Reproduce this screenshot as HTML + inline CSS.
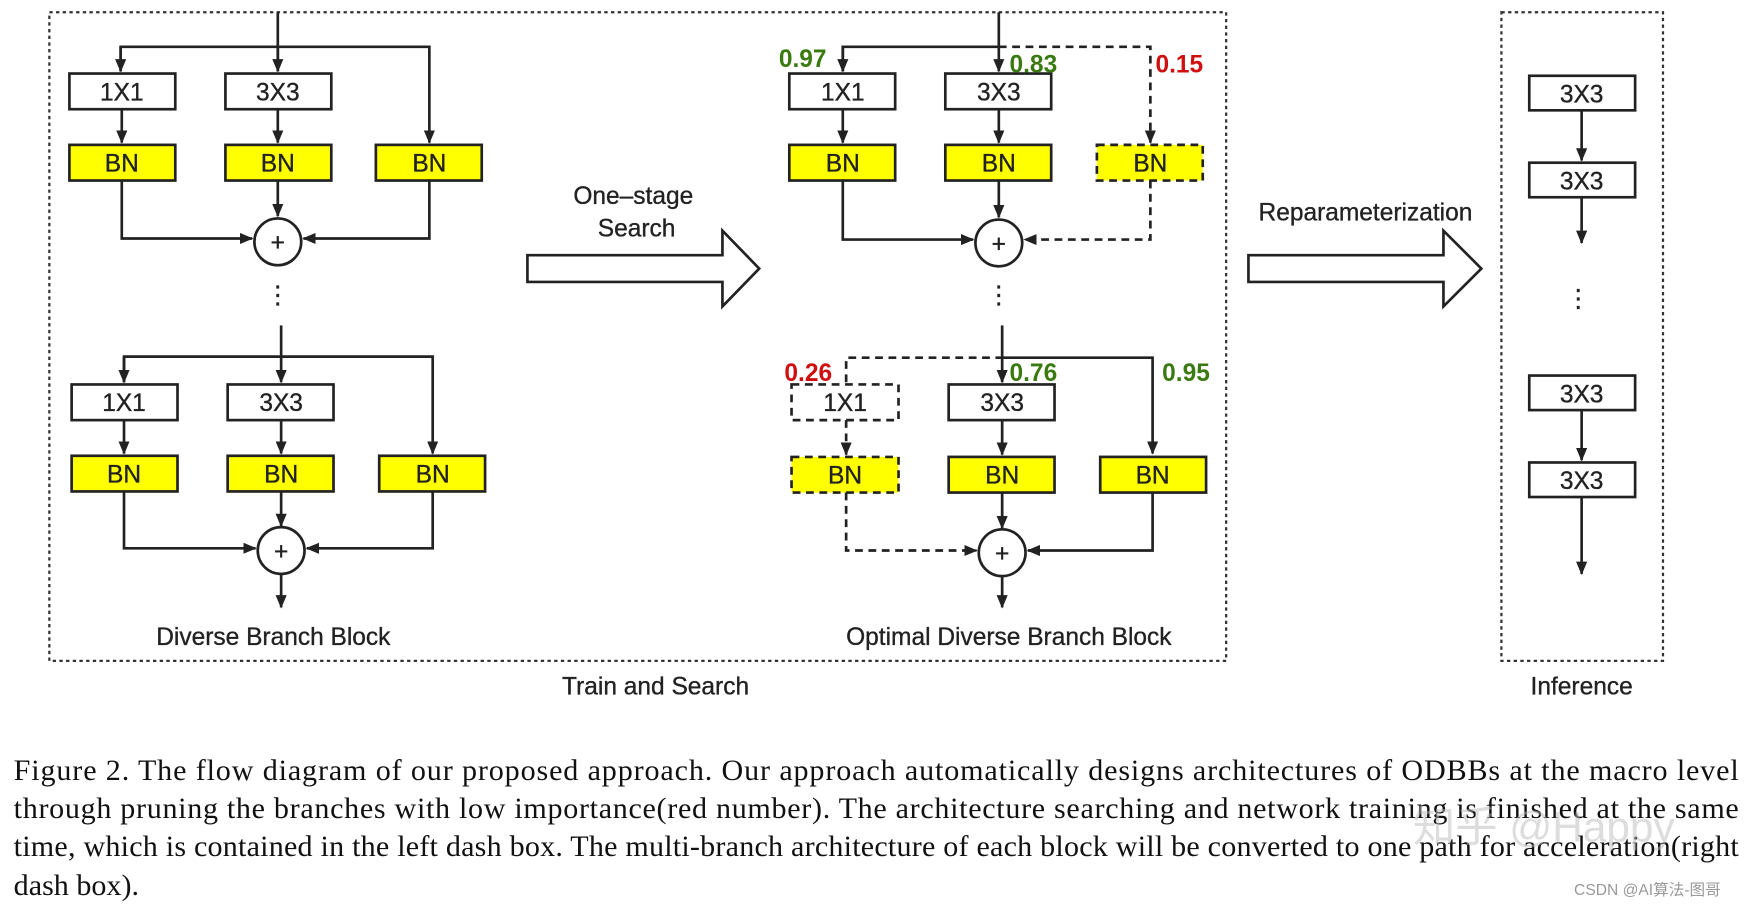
<!DOCTYPE html>
<html><head><meta charset="utf-8"><style>
html,body{margin:0;padding:0;background:#fff;}
svg{display:block;}
.b{fill:#fff;stroke:#222;stroke-width:2.4}
.y{fill:#ffff00;stroke:#222;stroke-width:2.4}
.d{stroke-dasharray:7 5}
.l{fill:none;stroke:#222;stroke-width:2.4}
.t{font-family:"Liberation Sans",sans-serif;font-size:22px;fill:#222;text-anchor:middle;stroke:#222;stroke-width:0.3}
.g{font-family:"Liberation Sans",sans-serif;font-size:22px;font-weight:bold;fill:#3a7a10;text-anchor:middle}
.r{font-family:"Liberation Sans",sans-serif;font-size:22px;font-weight:bold;fill:#d01010;text-anchor:middle}
.c{font-family:"Liberation Serif",serif;font-size:27px;fill:#111}
</style></head><body>
<svg width="1748" height="906" viewBox="0 0 1568 813" xmlns="http://www.w3.org/2000/svg">
<defs><marker id="a" markerWidth="12" markerHeight="10" refX="11" refY="5" orient="auto" markerUnits="userSpaceOnUse"><path d="M0,0 L12,5 L0,10 z" fill="#222"/></marker></defs>
<rect x="44" y="11" width="1056" height="582" fill="none" stroke="#333" stroke-width="2" stroke-dasharray="3 3"/>
<rect x="1347" y="11" width="145" height="582" fill="none" stroke="#333" stroke-width="2" stroke-dasharray="3 3"/>

<g>
<path class="l" d="M249,11 V64"/><path class="l" d="M108,64 V42 H385 V128" marker-end="url(#a)"/>
<path class="l" d="M108,42 V64" marker-end="url(#a)"/>
<path class="l" d="M249,42 V64" marker-end="url(#a)"/>
<rect class="b" x="62" y="66" width="95" height="32"/><text class="t" x="109" y="90">1X1</text>
<rect class="b" x="202" y="66" width="95" height="32"/><text class="t" x="249" y="90">3X3</text>
<path class="l" d="M109,98 V128" marker-end="url(#a)"/><path class="l" d="M249,98 V128" marker-end="url(#a)"/>
<rect class="y" x="62" y="130" width="95" height="32"/><text class="t" x="109" y="154">BN</text>
<rect class="y" x="202" y="130" width="95" height="32"/><text class="t" x="249" y="154">BN</text>
<rect class="y" x="337" y="130" width="95" height="32"/><text class="t" x="385" y="154">BN</text>
<path class="l" d="M249,162 V194" marker-end="url(#a)"/>
<path class="l" d="M109,162 V214 H226" marker-end="url(#a)"/>
<path class="l" d="M385,162 V214 H272" marker-end="url(#a)"/>
<circle class="b" cx="249" cy="217" r="21"/><text class="t" x="249" y="225">+</text>
<text class="t" x="249" y="272">⋮</text>
</g>
<g>
<path class="l" d="M252,292 V343" marker-end="url(#a)"/>
<path class="l" d="M111,343 V320 H388 V407" marker-end="url(#a)"/>
<path class="l" d="M111,320 V343" marker-end="url(#a)"/>
<rect class="b" x="64" y="345" width="95" height="32"/><text class="t" x="111" y="369">1X1</text>
<rect class="b" x="204" y="345" width="95" height="32"/><text class="t" x="252" y="369">3X3</text>
<path class="l" d="M111,377 V407" marker-end="url(#a)"/><path class="l" d="M252,377 V407" marker-end="url(#a)"/>
<rect class="y" x="64" y="409" width="95" height="32"/><text class="t" x="111" y="433">BN</text>
<rect class="y" x="204" y="409" width="95" height="32"/><text class="t" x="252" y="433">BN</text>
<rect class="y" x="340" y="409" width="95" height="32"/><text class="t" x="388" y="433">BN</text>
<path class="l" d="M252,441 V472" marker-end="url(#a)"/>
<path class="l" d="M111,441 V492 H229" marker-end="url(#a)"/>
<path class="l" d="M388,441 V492 H275" marker-end="url(#a)"/>
<circle class="b" cx="252" cy="494" r="21"/><text class="t" x="252" y="502">+</text>
<path class="l" d="M252,515 V545" marker-end="url(#a)"/>
<text class="t" x="245" y="579">Diverse Branch Block</text>
</g>

<path d="M473,229 H648 V207 L681,241 L648,275 V253 H473 Z" fill="#fff" stroke="#222" stroke-width="2.4"/>
<text class="t" x="568" y="183">One–stage</text><text class="t" x="571" y="212">Search</text>

<g>
<path class="l" d="M896,11 V64" marker-end="url(#a)"/>
<path class="l" d="M756,64 V42 H896"/>
<path class="l" d="M756,42 V64" marker-end="url(#a)"/>
<path class="l d" d="M896,42 H1032 V128" marker-end="url(#a)"/>
<rect class="b" x="708" y="66" width="95" height="32"/><text class="t" x="756" y="90">1X1</text>
<rect class="b" x="848" y="66" width="95" height="32"/><text class="t" x="896" y="90">3X3</text>
<path class="l" d="M756,98 V128" marker-end="url(#a)"/><path class="l" d="M896,98 V128" marker-end="url(#a)"/>
<rect class="y" x="708" y="130" width="95" height="32"/><text class="t" x="756" y="154">BN</text>
<rect class="y" x="848" y="130" width="95" height="32"/><text class="t" x="896" y="154">BN</text>
<rect class="y d" x="984" y="130" width="95" height="32"/><text class="t" x="1032" y="154">BN</text>
<path class="l" d="M896,162 V195" marker-end="url(#a)"/>
<path class="l" d="M756,162 V215 H873" marker-end="url(#a)"/>
<path class="l d" d="M1032,162 V215 H919" marker-end="url(#a)"/>
<circle class="b" cx="896" cy="218" r="21"/><text class="t" x="896" y="226">+</text>
<text class="t" x="896" y="272">⋮</text>
<text class="g" x="720" y="60">0.97</text><text class="g" x="927" y="65">0.83</text><text class="r" x="1058" y="65">0.15</text>
</g>
<g>
<path class="l" d="M899,292 V343" marker-end="url(#a)"/>
<path class="l d" d="M759,343 V321 H899"/>
<path class="l" d="M899,321 H1034 V407" marker-end="url(#a)"/>
<rect class="b d" x="710" y="345" width="96" height="32"/><text class="t" x="758" y="369">1X1</text>
<rect class="b" x="851" y="345" width="95" height="32"/><text class="t" x="899" y="369">3X3</text>
<path class="l d" d="M759,377 V408" marker-end="url(#a)"/><path class="l" d="M899,377 V408" marker-end="url(#a)"/>
<rect class="y d" x="710" y="410" width="96" height="32"/><text class="t" x="758" y="434">BN</text>
<rect class="y" x="851" y="410" width="95" height="32"/><text class="t" x="899" y="434">BN</text>
<rect class="y" x="987" y="410" width="95" height="32"/><text class="t" x="1034" y="434">BN</text>
<path class="l" d="M899,442 V474" marker-end="url(#a)"/>
<path class="l d" d="M759,442 V494 H876" marker-end="url(#a)"/>
<path class="l" d="M1034,442 V494 H922" marker-end="url(#a)"/>
<circle class="b" cx="899" cy="496" r="21"/><text class="t" x="899" y="504">+</text>
<path class="l" d="M899,517 V545" marker-end="url(#a)"/>
<text class="r" x="725" y="342">0.26</text><text class="g" x="927" y="342">0.76</text><text class="g" x="1064" y="342">0.95</text>
<text class="t" x="905" y="579">Optimal Diverse Branch Block</text>
</g>

<text class="t" x="588" y="623">Train and Search</text>
<text class="t" x="1225" y="198">Reparameterization</text>
<path d="M1120,229 H1295 V207 L1329,241 L1295,275 V253 H1120 Z" fill="#fff" stroke="#222" stroke-width="2.4"/>

<rect class="b" x="1372" y="68" width="95" height="31"/><text class="t" x="1419" y="92">3X3</text>
<path class="l" d="M1419,99 V144" marker-end="url(#a)"/>
<rect class="b" x="1372" y="146" width="95" height="31"/><text class="t" x="1419" y="170">3X3</text>
<path class="l" d="M1419,177 V218" marker-end="url(#a)"/>
<text class="t" x="1416" y="275">⋮</text>
<rect class="b" x="1372" y="337" width="95" height="31"/><text class="t" x="1419" y="361">3X3</text>
<path class="l" d="M1419,368 V413" marker-end="url(#a)"/>
<rect class="b" x="1372" y="415" width="95" height="31"/><text class="t" x="1419" y="439">3X3</text>
<path class="l" d="M1419,446 V515" marker-end="url(#a)"/>
<text class="t" x="1419" y="623">Inference</text>

<text class="c" x="12" y="700" textLength="1548" lengthAdjust="spacing">Figure 2. The flow diagram of our proposed approach.  Our approach automatically designs architectures of ODBBs at the macro level</text>
<text class="c" x="12" y="734" textLength="1548" lengthAdjust="spacing">through pruning the branches with low importance(red number). The architecture searching and network training is finished at the same</text>
<text class="c" x="12" y="768" textLength="1548" lengthAdjust="spacing">time, which is contained in the left dash box. The multi-branch architecture of each block will be converted to one path for acceleration(right</text>
<text class="c" x="12" y="803">dash box).</text>
<text x="1385" y="755" font-family="Liberation Sans,'Noto Sans CJK SC',sans-serif" font-size="38" fill="#bbb" fill-opacity="0.5" text-anchor="middle">知乎 @Happy</text>
<text x="1478" y="803" font-family="Liberation Sans,'Noto Sans CJK SC',sans-serif" font-size="14" fill="#999" text-anchor="middle">CSDN @AI算法-图哥</text>
</svg>
</body></html>
